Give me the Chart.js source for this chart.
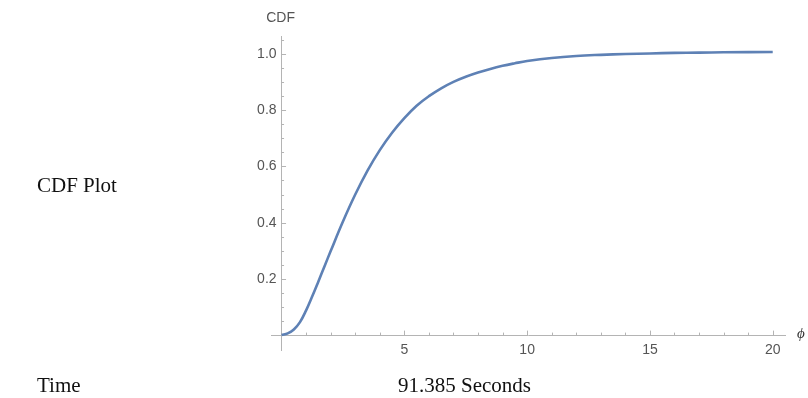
<!DOCTYPE html>
<html>
<head>
<meta charset="utf-8">
<script src="https://cdn.jsdelivr.net/npm/chart.js@4.4.1/dist/chart.umd.min.js"></script>
<style>
  body { margin: 0; background: #fff; }
  #wrap { position: relative; width: 808px; height: 398px; }
  #cdfChart { position: absolute; left: 0; top: 0; }
  .lbl { position: absolute; font-family: "Liberation Serif", serif; font-size: 21px; color: #111; white-space: nowrap; }
</style>
</head>
<body>
<div id="wrap">
  <canvas id="cdfChart" width="808" height="398"></canvas>
  <div class="lbl" style="left:37px; top:173px;">CDF Plot</div>
  <div class="lbl" style="left:37px; top:373px;">Time</div>
  <div class="lbl" style="left:398px; top:373px;">91.385 Seconds</div>
</div>
<script>
// values
var phi = [0, 0.25, 0.5, 0.75, 1, 1.25, 1.5, 1.75, 2, 2.5, 3, 3.5, 4, 4.5, 5, 5.5, 6, 6.5, 7, 7.5, 8, 8.5, 9, 9.5, 10, 11, 12, 13, 14, 15, 16, 17, 18, 20]
var cdf = [0, 0.006, 0.02, 0.046, 0.088, 0.138, 0.191, 0.245, 0.299, 0.404, 0.50, 0.585, 0.658, 0.72, 0.772, 0.816, 0.850, 0.878, 0.901, 0.919, 0.934, 0.947, 0.958, 0.967, 0.975, 0.986, 0.993, 0.997, 1.0, 1.002, 1.004, 1.005, 1.006, 1.007]
var xTicks = [5, 10, 15, 20]
var yTicks = [0.2, 0.4, 0.6, 0.8, 1.0]

var axisGray = '#b4b4b4'
var labelGray = '#555'
var tickFont = { family: '"Liberation Sans", Arial, sans-serif', size: 14 }

var points = phi.map(function (x, i) { return { x: x, y: cdf[i] } })

// small inward tick marks, y labels and axis labels, like Mathematica
var axisExtras = {
    id: 'axisExtras',
    afterDraw: function (chart) {
        var ctx = chart.ctx
        var xs = chart.scales.x
        var ys = chart.scales.y
        var x0 = xs.getPixelForValue(0)
        var y0 = ys.getPixelForValue(0)
        ctx.save()
        ctx.strokeStyle = axisGray
        ctx.lineWidth = 1
        ctx.beginPath()
        for (var i = 1; i <= 20; i++) {
            var px = Math.round(xs.getPixelForValue(i)) + 0.5
            var len = (i % 5 === 0) ? 4.5 : 2.5
            ctx.moveTo(px, y0)
            ctx.lineTo(px, y0 - len)
        }
        for (var j = 1; j <= 21; j++) {
            var py = Math.round(ys.getPixelForValue(j * 0.05)) + 0.5
            var ylen = (j % 4 === 0) ? 4.5 : 2.5
            ctx.moveTo(x0, py)
            ctx.lineTo(x0 + ylen, py)
        }
        ctx.stroke()

        ctx.fillStyle = labelGray
        ctx.font = '14px "Liberation Sans", Arial, sans-serif'
        ctx.textAlign = 'right'
        ctx.textBaseline = 'middle'
        yTicks.forEach(function (v) {
            ctx.fillText(v.toFixed(1), x0 - 5, ys.getPixelForValue(v))
        })

        ctx.textAlign = 'center'
        ctx.fillText('CDF', x0 - 1, 18)
        ctx.fillStyle = '#333'
        ctx.font = 'italic 15px "Liberation Serif", serif'
        ctx.textAlign = 'left'
        ctx.fillText('\u03d5', 797, y0 - 1)
        ctx.restore()
    }
}

var cdfChart = new Chart(document.getElementById('cdfChart').getContext('2d'), {
    type: 'line',
    data: {
        datasets: [{
            label: 'CDF',
            data: points,
            borderColor: '#5e81b5',
            borderWidth: 2.6,
            pointRadius: 0,
            fill: false,
            tension: 0.4
        }]
    },
    options: {
        responsive: false,
        animation: false,
        layout: { padding: { left: 271, right: 23, top: 36, bottom: 48 } },
        plugins: {
            legend: { display: false },
            tooltip: { enabled: false }
        },
        scales: {
            x: {
                type: 'linear',
                min: -0.43,
                max: 20.5,
                position: { y: 0 },
                grid: { display: false, drawTicks: false },
                border: { display: true, color: axisGray, width: 1 },
                afterBuildTicks: function (scale) {
                    scale.ticks = xTicks.map(function (v) { return { value: v } })
                },
                ticks: {
                    padding: 7,
                    maxRotation: 0,
                    autoSkip: false,
                    color: labelGray,
                    font: tickFont,
                    callback: function (v) { return String(v) }
                }
            },
            y: {
                type: 'linear',
                min: -0.053,
                max: 1.064,
                position: { x: 0 },
                grid: { display: false, drawTicks: false },
                border: { display: true, color: axisGray, width: 1 },
                afterBuildTicks: function (scale) {
                    scale.ticks = yTicks.map(function (v) { return { value: v } })
                },
                ticks: { display: false }
            }
        }
    },
    plugins: [axisExtras]
})
</script>
</body>
</html>
